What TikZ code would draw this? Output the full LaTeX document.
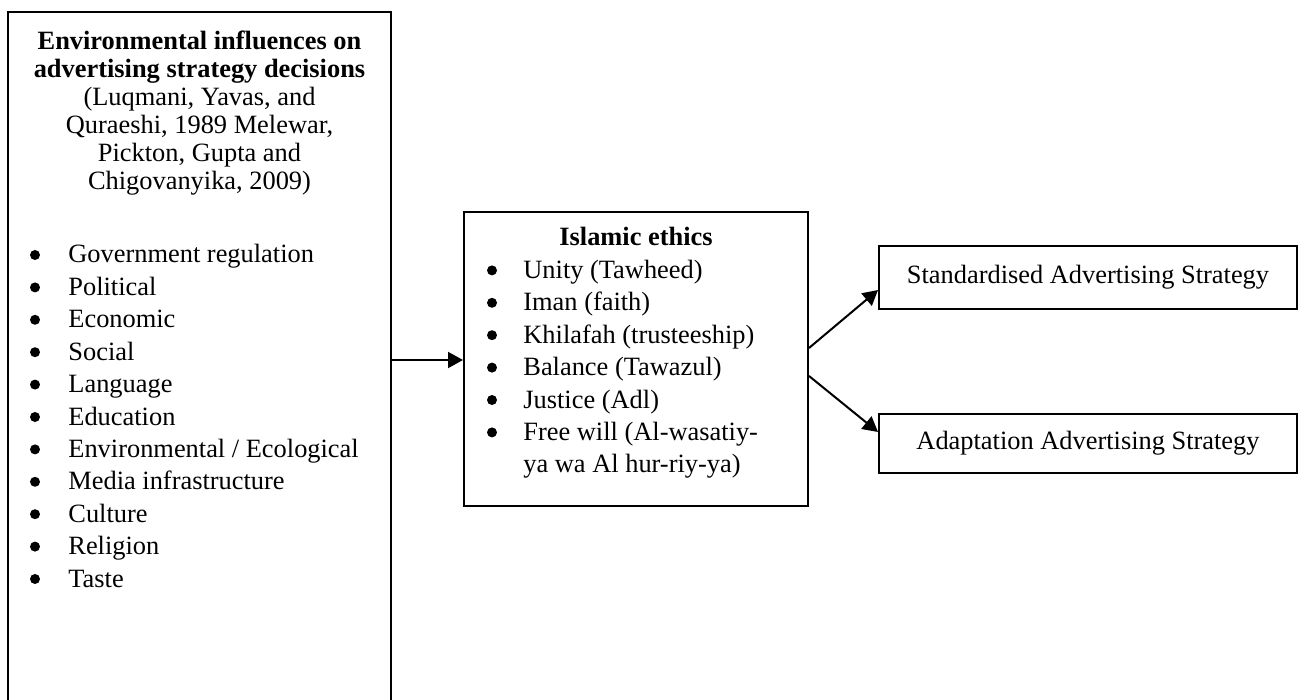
\documentclass[tikz,border=0pt]{standalone}
\usepackage{fontspec}
\setmainfont{Liberation Serif}
\usepackage{tikz}
\usetikzlibrary{arrows.meta}

\tikzset{
    box/.style={draw, line width=1pt, inner sep=0pt},
    txt/.style={inner sep=0pt, font=\fontsize{13.2pt}{13.9pt}\selectfont},
    dot/.style={circle, fill, inner sep=0pt, minimum size=5pt},
    arr/.style={line width=1pt, -{Triangle[length=7.5pt, width=8pt]}}
}

\begin{document}
\begin{tikzpicture}[x=0.5pt, y=-0.5pt]
    \useasboundingbox (0,0) rectangle (1311,700);

    % Boxes
    \node[box, minimum width=191.5pt, minimum height=348pt] (envbox) at (199.5,360) {};
    \node[box, minimum width=172pt, minimum height=147pt] (ethbox) at (636,359) {};
    \node[box, txt, minimum width=209pt, minimum height=31.5pt] (stdbox) at (1088,277.5) {Standardised Advertising Strategy};
    \node[box, txt, minimum width=209pt, minimum height=29.5pt] (adpbox) at (1088,443.5) {Adaptation Advertising Strategy};

    % Heading of the left box
    \foreach \t [count=\i from 0] in {Environmental influences on, advertising strategy decisions} {
        \node[txt, anchor=base] (envtitle\i) at (199.5,50+27.8*\i) {\textbf{\t}};
    }
    \foreach \t [count=\i from 0] in {{(Luqmani, Yavas, and}, {Quraeshi, 1989 Melewar,}, {Pickton, Gupta and}, {Chigovanyika, 2009)}} {
        \node[txt, anchor=base] (envcite\i) at (199.5,106+27.8*\i) {\t};
    }

    % Bullet list of the left box
    \foreach \t [count=\i from 0] in {Government regulation, Political, Economic, Social, Language, Education, Environmental / Ecological, Media infrastructure, Culture, Religion, Taste} {
        \node[dot] (envdot\i) at (35,255+32.4*\i) {};
        \node[txt, anchor=base west] (envitem\i) at (68,263+32.4*\i) {\t};
    }

    % Islamic ethics
    \node[txt, anchor=base] (ethtitle) at (636,246) {\textbf{Islamic ethics}};
    \foreach \t [count=\i from 0] in {Unity (Tawheed), Iman (faith), Khilafah (trusteeship), Balance (Tawazul), Justice (Adl), Free will (Al-wasatiy-} {
        \node[dot] (ethdot\i) at (492,270.4+32.4*\i) {};
        \node[txt, anchor=base west] (ethitem\i) at (523,278.4+32.4*\i) {\t};
    }
    \node[txt, anchor=base west] (ethitem6) at (523,472.8) {ya wa Al hur-riy-ya)};

    % Arrows
    \draw[arr] (envbox.east) -- (envbox.east -| ethbox.west);
    \draw[arr] ([yshift=5.5pt]ethbox.east) -- ([yshift=-6.25pt]stdbox.west);
    \draw[arr] ([yshift=-8.5pt]ethbox.east) -- ([yshift=5.75pt]adpbox.west);
\end{tikzpicture}
\end{document}
